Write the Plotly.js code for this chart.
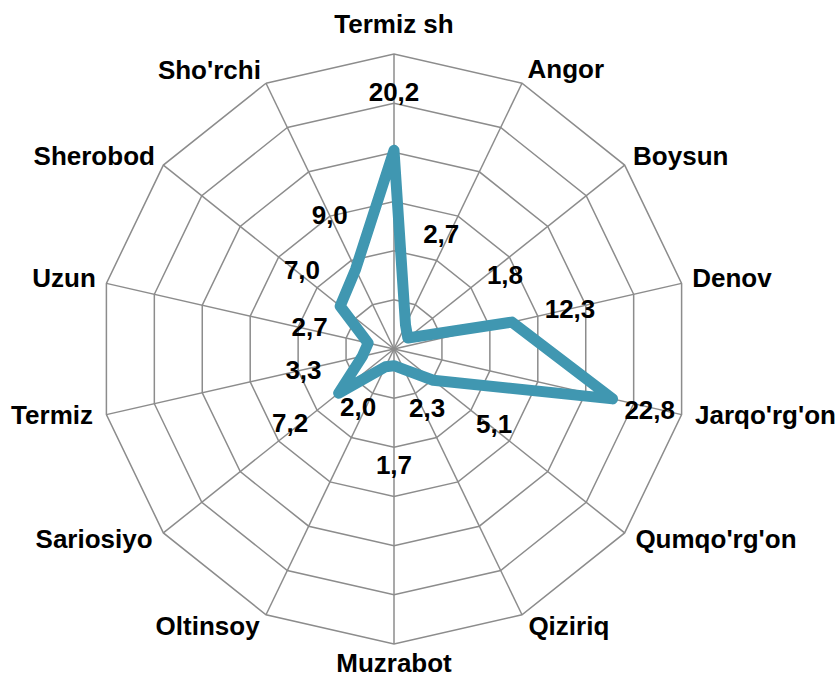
<!DOCTYPE html>
<html>
<head>
<meta charset="utf-8">
<script src="https://cdn.plot.ly/plotly-3.0.1.min.js"></script>
<style>
  html, body { margin: 0; padding: 0; background: #fff; }
  #chart { width: 839px; height: 682px; }
  .scatterlayer path.js-line { stroke-linejoin: round; stroke-linecap: round; }
</style>
</head>
<body>
<div id="chart"></div>
<script>
// ---- data ----
const categories = ["Termiz sh", "Angor", "Boysun", "Denov", "Jarqo'rg'on", "Qumqo'rg'on", "Qiziriq",
                    "Muzrabot", "Oltinsoy", "Sariosiyo", "Termiz", "Uzun", "Sherobod", "Sho'rchi"];
const values = [20.2, 2.7, 1.8, 12.3, 22.8, 5.1, 2.3, 1.7, 2.0, 7.2, 3.3, 2.7, 7.0, 9.0];

// ---- label placement (angle in degrees clockwise from top, radius in axis units) ----
const valueLabelTheta = [0, 22.8, 57.4, 78, 104.0, 127.9, 151.6, 180, 210.5, 233.8, 255.7, 282.7, 309.9, 334];
const valueLabelR = [25.9, 12.4, 13.4, 18.3, 26.8, 12.9, 7.1, 12.1, 7.2, 13.1, 9.5, 8.8, 12.2, 14.9];
const catLabelR = [32.8, 31.3, 31.1, 31.1, 31.4, 31.4, 31.5, 32.2, 31.5, 31.4, 31.4, 31.1, 31.1, 31.2];

const step = 360 / categories.length;
const catTheta = categories.map((c, i) => i * step);
const catPos = categories.map((c, i) => {
  if (i === 0 || i === categories.length / 2) return 'middle center';
  return i < categories.length / 2 ? 'middle right' : 'middle left';
});
const labelText = values.map(v => v.toFixed(1).replace('.', ','));

const lineColor = 'rgb(64,151,177)';
const gridColor = '#8c8c8c';
const font = { family: 'Liberation Sans, Arial, sans-serif', size: 26, color: '#000', weight: 'bold' };

// geometry of the chart (pixels)
const W = 839, H = 682;
const cx = 394, cy = 349, R = 295;
const rMax = 30;          // grid range
const rMax2 = 33.8;       // label overlay range (same px per unit)
const R2 = R * rMax2 / rMax;
const dom = (r) => ({
  x: [(cx - r) / W, (cx + r) / W],
  y: [(H - (cy + r)) / H, (H - (cy - r)) / H]
});

const traces = [
  {
    type: 'scatterpolar',
    subplot: 'polar',
    mode: 'lines',
    r: values.concat(values[0]),
    theta: categories.concat(categories[0]),
    line: { color: lineColor, width: 11 },
    hoverinfo: 'none',
    showlegend: false
  },
  {
    type: 'scatterpolar',
    subplot: 'polar2',
    mode: 'text',
    r: valueLabelR,
    theta: valueLabelTheta,
    text: labelText,
    textposition: 'middle center',
    textfont: font,
    cliponaxis: false,
    hoverinfo: 'none',
    showlegend: false
  },
  {
    type: 'scatterpolar',
    subplot: 'polar2',
    mode: 'text',
    r: catLabelR,
    theta: catTheta,
    text: categories,
    textposition: catPos,
    textfont: font,
    cliponaxis: false,
    hoverinfo: 'none',
    showlegend: false
  }
];

const layout = {
  width: W,
  height: H,
  margin: { l: 0, r: 0, t: 0, b: 0 },
  paper_bgcolor: '#fff',
  plot_bgcolor: '#fff',
  showlegend: false,
  polar: {
    domain: dom(R),
    gridshape: 'linear',
    bgcolor: '#fff',
    radialaxis: {
      range: [0, rMax],
      dtick: 5,
      showticklabels: false,
      ticks: '',
      showline: false,
      gridcolor: gridColor,
      gridwidth: 1.5
    },
    angularaxis: {
      type: 'category',
      categoryarray: categories,
      direction: 'clockwise',
      rotation: 90,
      ticks: '',
      showticklabels: false,
      showline: true,
      linecolor: gridColor,
      linewidth: 1.5,
      gridcolor: gridColor,
      gridwidth: 1.5
    }
  },
  polar2: {
    domain: dom(R2),
    bgcolor: 'rgba(0,0,0,0)',
    radialaxis: {
      range: [0, rMax2],
      visible: false,
      showgrid: false,
      showticklabels: false,
      showline: false,
      ticks: ''
    },
    angularaxis: {
      type: 'linear',
      direction: 'clockwise',
      rotation: 90,
      visible: false,
      showgrid: false,
      showticklabels: false,
      showline: false,
      ticks: ''
    }
  }
};

Plotly.newPlot('chart', traces, layout, { staticPlot: true, displayModeBar: false });
</script>
</body>
</html>
